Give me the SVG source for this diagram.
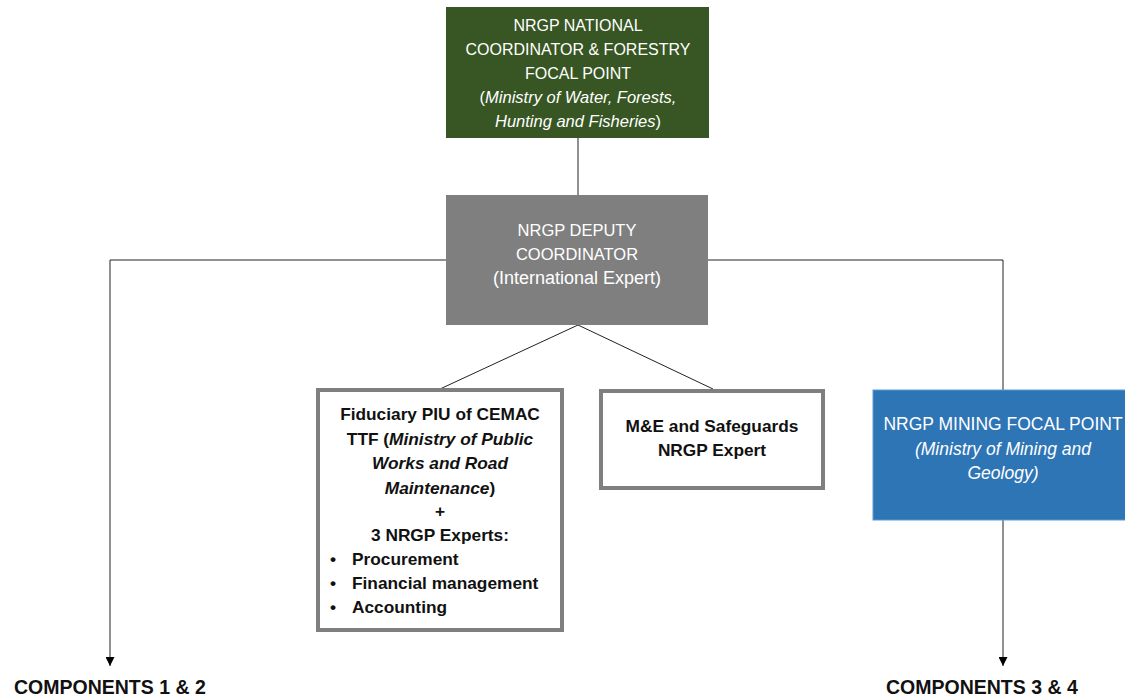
<svg xmlns="http://www.w3.org/2000/svg" width="1125" height="698" viewBox="0 0 1125 698">
<defs>
<marker id="arr" viewBox="0 0 10 10" refX="10" refY="5" markerWidth="9" markerHeight="9" markerUnits="userSpaceOnUse" orient="auto">
<path d="M0,0 L10,5 L0,10 z" fill="#000"/>
</marker>
<style>
text{font-family:"Liberation Sans",Arial,sans-serif;font-size:16.5px;text-anchor:middle}
.w{fill:#fff}
.b{fill:#111;font-weight:bold;font-size:17.3px}
.l{text-anchor:start}
.i{font-style:italic}
.c{stroke:#222;stroke-width:1;fill:none}
.big{font-size:19.5px}
</style>
</defs>
<rect width="1125" height="698" fill="#fff"/>
<g id="connectors">
<line class="c" x1="578" y1="138" x2="578" y2="195"/>
<polyline class="c" points="446,260 110,260 110,666" marker-end="url(#arr)"/>
<polyline class="c" points="708,260 1003,260 1003,390"/>
<line class="c" x1="1003" y1="520" x2="1003" y2="666" marker-end="url(#arr)"/>
<line class="c" x1="578" y1="325" x2="440" y2="389"/>
<line class="c" x1="578" y1="325" x2="713" y2="389"/>
</g>
<g id="national">
<rect x="446" y="7" width="263" height="131" fill="#375623"/>
<text class="w" x="578" y="31" style="font-size:16px">NRGP NATIONAL</text>
<text class="w" x="578" y="55" style="font-size:16px">COORDINATOR &amp; FORESTRY</text>
<text class="w" x="578" y="79" style="font-size:16px">FOCAL POINT</text>
<text class="w" x="578" y="103">(<tspan class="i">Ministry of Water, Forests,</tspan></text>
<text class="w" x="578" y="127"><tspan class="i">Hunting and Fisheries</tspan>)</text>
</g>
<g id="deputy">
<rect x="446" y="195" width="262" height="130" fill="#7f7f7f"/>
<text class="w" x="577" y="236">NRGP DEPUTY</text>
<text class="w" x="577" y="260">COORDINATOR</text>
<text class="w" x="577" y="284" style="font-size:18px">(International Expert)</text>
</g>
<g id="fiduciary">
<rect x="318" y="390" width="244" height="240" fill="#fff" stroke="#7f7f7f" stroke-width="4"/>
<text class="b" x="440" y="420">Fiduciary PIU of CEMAC</text>
<text class="b" x="440" y="445">TTF (<tspan class="i">Ministry of Public</tspan></text>
<text class="b i" x="440" y="469">Works and Road</text>
<text class="b" x="440" y="494"><tspan class="i">Maintenance</tspan>)</text>
<text class="b" x="440" y="517">+</text>
<text class="b" x="440" y="541">3 NRGP Experts:</text>
<text class="b" x="333" y="565">•</text>
<text class="b l" x="352" y="565">Procurement</text>
<text class="b" x="333" y="589">•</text>
<text class="b l" x="352" y="589">Financial management</text>
<text class="b" x="333" y="613">•</text>
<text class="b l" x="352" y="613">Accounting</text>
</g>
<g id="me">
<rect x="601" y="391" width="222" height="97" fill="#fff" stroke="#7f7f7f" stroke-width="4"/>
<text class="b" x="712" y="432">M&amp;E and Safeguards</text>
<text class="b" x="712" y="456">NRGP Expert</text>
</g>
<g id="mining">
<rect x="873" y="390" width="254" height="130" fill="#2e75b6" stroke="#5b9bd5" stroke-width="1"/>
<text class="w" x="1003" y="430" style="font-size:17.5px">NRGP MINING FOCAL POINT</text>
<text class="w i" x="1003" y="455" style="font-size:17.5px">(Ministry of Mining and</text>
<text class="w i" x="1003" y="479" style="font-size:17.5px">Geology)</text>
</g>
<g id="comp12">
<text class="b big l" x="14" y="694">COMPONENTS 1 &amp; 2</text>
</g>
<g id="comp34">
<text class="b big l" x="886" y="694">COMPONENTS 3 &amp; 4</text>
</g>
</svg>
